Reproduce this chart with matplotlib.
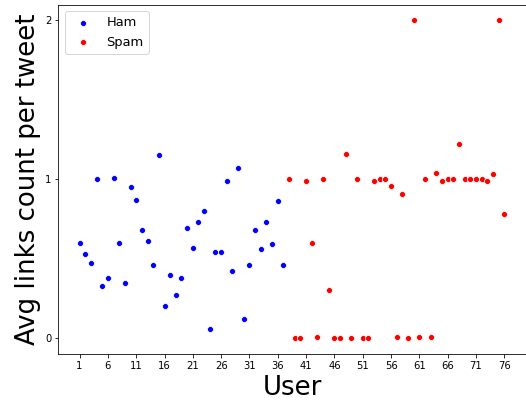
import matplotlib
matplotlib.use("Agg")
import matplotlib.pyplot as plt

# average links per tweet for each user
ham_users = list(range(1, 38))
ham_links = [0.60, 0.53, 0.47, 1.00, 0.33, 0.38, 1.01, 0.60, 0.35, 0.95,
             0.87, 0.68, 0.61, 0.46, 1.15, 0.20, 0.40, 0.27, 0.38, 0.69,
             0.57, 0.73, 0.80, 0.055, 0.54, 0.54, 0.99, 0.42, 1.07, 0.12,
             0.46, 0.68, 0.56, 0.73, 0.59, 0.86, 0.46]

spam_users = list(range(38, 77))
spam_links = [1.00, 0.0, 0.0, 0.99, 0.60, 0.01, 1.00, 0.30, 0.0, 0.0,
              1.16, 0.0, 1.00, 0.0, 0.0, 0.99, 1.00, 1.00, 0.96, 0.01,
              0.91, 0.0, 2.00, 0.01, 1.00, 0.01, 1.04, 0.99, 1.00, 1.00,
              1.22, 1.00, 1.00, 1.00, 1.00, 0.99, 1.03, 2.00, 0.78]

xticks = list(range(1, 77, 5))
yticks = [0, 1, 2]

fig = plt.figure(figsize=(526 / 72, 408 / 72), dpi=72)
ax = fig.add_axes([58.3 / 526, 54 / 408, (525.6 - 58.3) / 526, (403.5 - 54) / 408])

ax.scatter(ham_users, ham_links, s=36, c="blue", edgecolors="white", linewidths=0.75, label="Ham")
ax.scatter(spam_users, spam_links, s=36, c="red", edgecolors="white", linewidths=0.75, label="Spam")

ax.set_xticks(xticks)
ax.set_yticks(yticks)
ax.set_xlabel("User", fontsize=26)
ax.set_ylabel("Avg links count per tweet", fontsize=26)
ax.legend(loc="upper left", fontsize=13)

fig.savefig("out.png", dpi=72)
